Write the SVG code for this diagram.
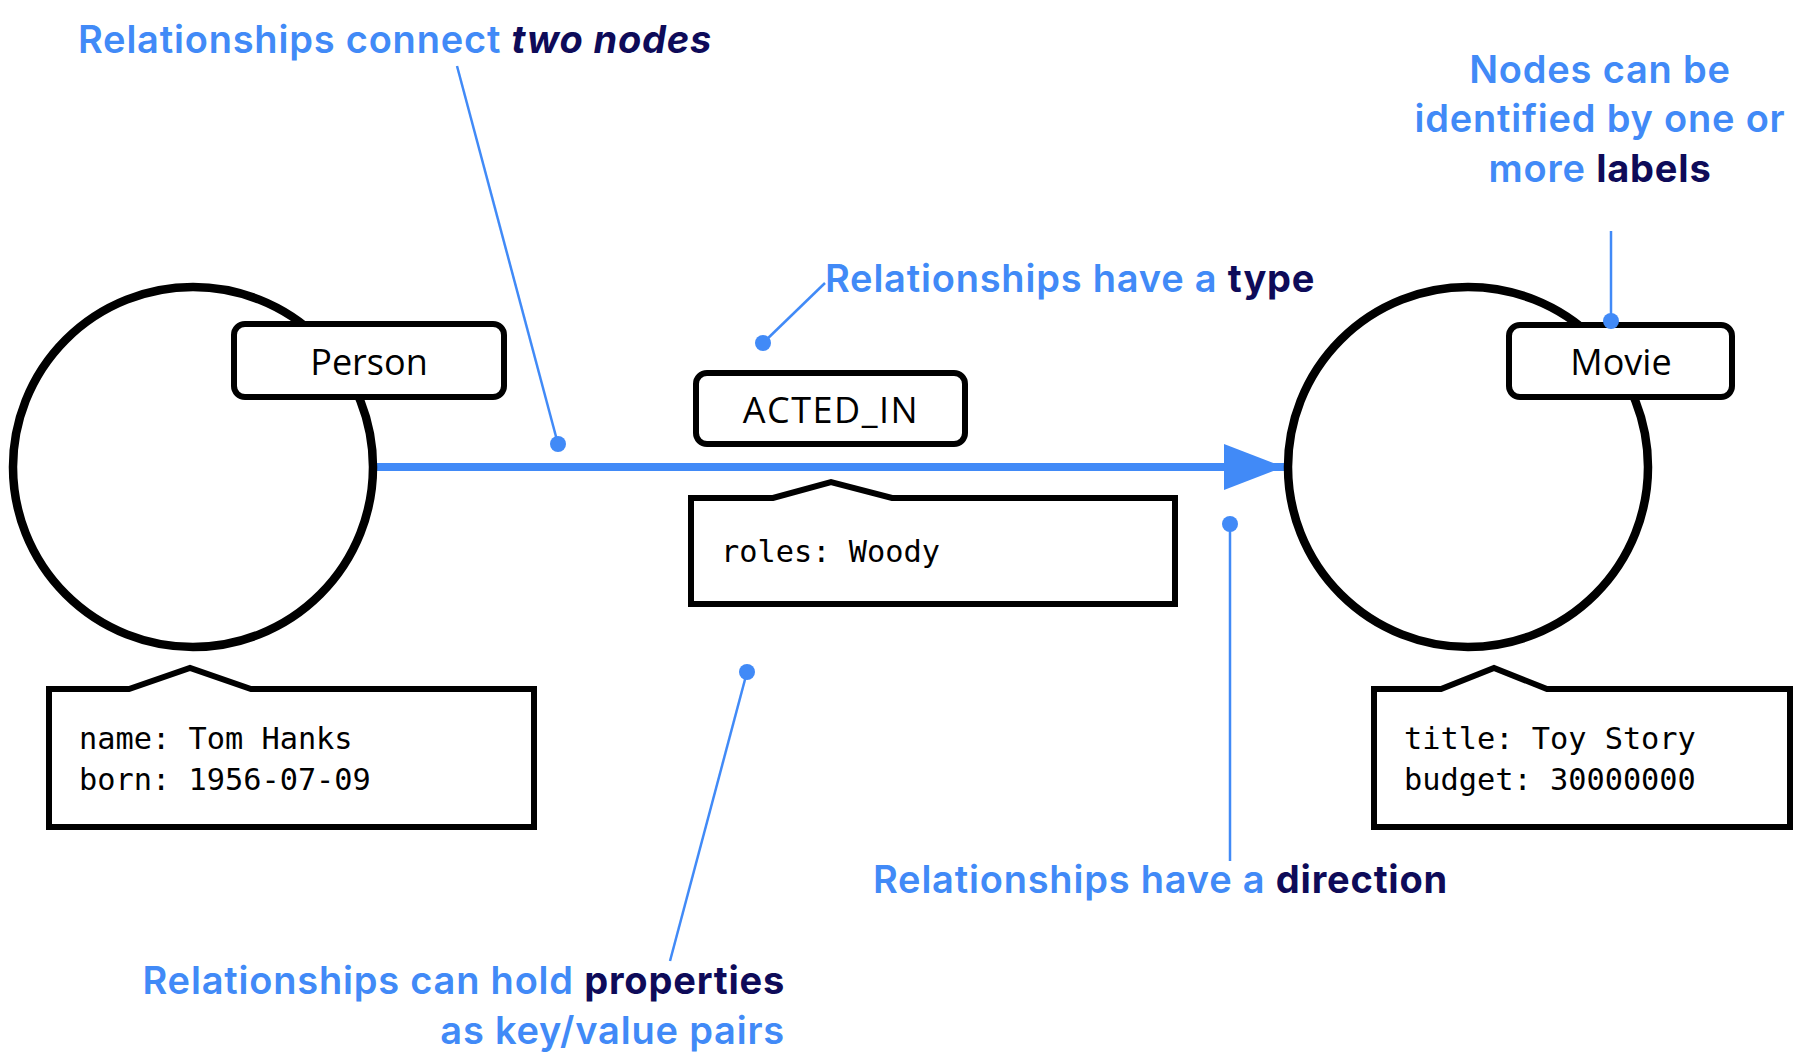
<svg xmlns="http://www.w3.org/2000/svg" width="1804" height="1060" viewBox="0 0 1804 1060">
<defs>
<style>
.node{fill:#fff;stroke:#000;stroke-width:8.5}
.lbl{fill:#fff;stroke:#000;stroke-width:6}
.prop{fill:#fff;stroke:#000;stroke-width:6;stroke-linejoin:miter}
.lbltxt{font-family:"Open Sans","Noto Sans",sans-serif;font-size:36px;fill:#000;text-anchor:middle}
.mono{font-family:"DejaVu Sans Mono","Liberation Mono",monospace;font-size:30.3px;fill:#000}
.ann{font-family:Inter,"Open Sans",sans-serif;font-weight:600;font-size:38px;letter-spacing:0.8px;fill:#418AF7}
.em{fill:#0E0B59;font-weight:700}
.lead{stroke:#418AF7;stroke-width:2.5;fill:none}
.dot{fill:#418AF7}
</style>
<marker id="arr" markerUnits="userSpaceOnUse" markerWidth="62" markerHeight="46" refX="60" refY="23" orient="auto">
<path d="M0,0 L60,23 L0,46 Z" fill="#418AF7"/>
</marker>
</defs>
<rect width="1804" height="1060" fill="#fff"/>

<g id="connectors">
<line x1="377" y1="467" x2="1284" y2="467" stroke="#418AF7" stroke-width="8" marker-end="url(#arr)"/>
</g>

<g id="person">
<circle class="node" cx="193" cy="467" r="180"/>
<rect class="lbl" x="234" y="324" width="270" height="73" rx="11"/>
<text class="lbltxt" x="369" y="375">Person</text>
<path class="prop" d="M49,689 L129,689 L190,668 L251,689 L534,689 L534,827 L49,827 Z"/>
<text class="mono" x="79" y="749">name: Tom Hanks</text>
<text class="mono" x="79" y="790">born: 1956-07-09</text>
</g>

<g id="movie">
<circle class="node" cx="1468" cy="467" r="180"/>
<rect class="lbl" x="1509" y="325" width="223" height="72" rx="11"/>
<text class="lbltxt" x="1621" y="375">Movie</text>
<path class="prop" d="M1374,689 L1441,689 L1494,668 L1547,689 L1790,689 L1790,827 L1374,827 Z"/>
<text class="mono" x="1404" y="749">title: Toy Story</text>
<text class="mono" x="1404" y="790">budget: 30000000</text>
</g>

<g id="acted_in">
<rect class="lbl" x="696" y="373" width="269" height="71" rx="11"/>
<text class="lbltxt" x="831" y="423" letter-spacing="1.5">ACTED_IN</text>
<path class="prop" d="M691,498 L773,498 L831,482 L892,498 L1175,498 L1175,604 L691,604 Z"/>
<text class="mono" x="721" y="562">roles: Woody</text>
</g>

<g id="annotations">
<g id="ann-connect">
<line class="lead" x1="457" y1="66" x2="558" y2="444"/>
<circle class="dot" cx="558" cy="444" r="8"/>
<text class="ann" x="78" y="53">Relationships connect <tspan class="em" font-style="italic">two nodes</tspan></text>
</g>
<g id="ann-type">
<line class="lead" x1="825" y1="283" x2="763" y2="343"/>
<circle class="dot" cx="763" cy="343" r="8"/>
<text class="ann" x="825" y="292">Relationships have a <tspan class="em">type</tspan></text>
</g>
<g id="ann-labels">
<line class="lead" x1="1611" y1="231" x2="1611" y2="321"/>
<circle class="dot" cx="1611" cy="321" r="8"/>
<text class="ann" text-anchor="middle" x="1600" y="83">Nodes can be</text>
<text class="ann" text-anchor="middle" x="1600" y="132">identified by one or</text>
<text class="ann" text-anchor="middle" x="1600" y="182">more <tspan class="em">labels</tspan></text>
</g>
<g id="ann-direction">
<line class="lead" x1="1230" y1="524" x2="1230" y2="861"/>
<circle class="dot" cx="1230" cy="524" r="8"/>
<text class="ann" x="873" y="893">Relationships have a <tspan class="em">direction</tspan></text>
</g>
<g id="ann-props">
<line class="lead" x1="670" y1="961" x2="747" y2="672"/>
<circle class="dot" cx="747" cy="672" r="8"/>
<text class="ann" text-anchor="end" x="785" y="994">Relationships can hold <tspan class="em">properties</tspan></text>
<text class="ann" text-anchor="end" x="785" y="1044">as key/value pairs</text>
</g>
</g>
</svg>
